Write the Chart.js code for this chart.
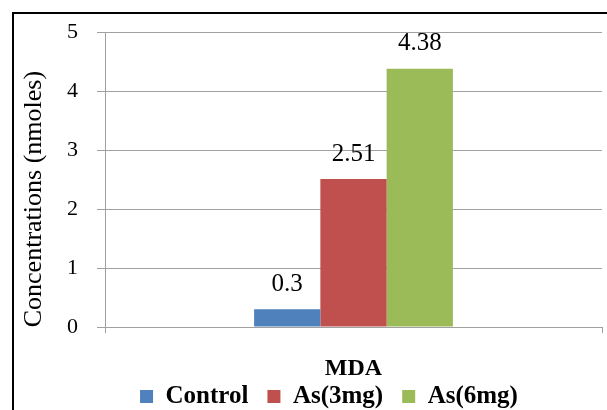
<!DOCTYPE html>
<html>
<head>
<meta charset="utf-8">
<script src="https://cdn.jsdelivr.net/npm/chart.js@4"></script>
<style>
  html, body { margin: 0; padding: 0; background: #fff; }
  #wrap { position: relative; width: 607px; height: 410px; overflow: hidden; background: #fff; }
  #frame { position: absolute; left: 12px; top: 12px; width: 700px; height: 500px; border: 2px solid #000; }
  #chart { position: absolute; left: 0; top: 0; }
</style>
</head>
<body>
<div id="wrap">
  <div id="frame"></div>
  <canvas id="chart" width="607" height="410"></canvas>
</div>
<script>
// datos del grafico
const categories = ["MDA"];
const seriesNames = ["Control", "As(3mg)", "As(6mg)"];
const controlValues = [0.3];
const as3Values = [2.51];
const as6Values = [4.38];
const yTicks = [0, 1, 2, 3, 4, 5];

const colors = ["#4f81bd", "#c0504d", "#9bbb59"];
const gridColor = "#a0a0a0";
const serif = "'Liberation Serif', 'Times New Roman', serif";

// etiquetas de valor encima de cada barra
const valueLabels = {
    id: "valueLabels",
    afterDatasetsDraw(chart) {
        const ctx = chart.ctx;
        ctx.save();
        ctx.font = "25px " + serif;
        ctx.fillStyle = "#000";
        ctx.textAlign = "center";
        ctx.textBaseline = "middle";
        chart.data.datasets.forEach((ds, i) => {
            chart.getDatasetMeta(i).data.forEach((bar, j) => {
                ctx.fillText(String(ds.data[j]), bar.x, bar.y - 25);
            });
        });
        ctx.restore();
    }
};

// mover la leyenda a su sitio (el padding inferior es negativo)
const legendShift = {
    id: "legendShift",
    afterLayout(chart) {
        const lg = chart.legend;
        lg.left += 28; lg.right += 28;
        lg.top -= 17; lg.bottom -= 17;
    }
};

new Chart(document.getElementById("chart"), {
    type: "bar",
    data: {
        labels: categories,
        datasets: [
            { label: seriesNames[0], data: controlValues, backgroundColor: colors[0] },
            { label: seriesNames[1], data: as3Values, backgroundColor: colors[1] },
            { label: seriesNames[2], data: as6Values, backgroundColor: colors[2] }
        ]
    },
    options: {
        responsive: false,
        animation: false,
        layout: { padding: { left: 0, right: 5, top: 30, bottom: -26 } },
        datasets: { bar: { categoryPercentage: 0.4, barPercentage: 1.0 } },
        scales: {
            x: {
                offset: true,
                grid: { display: true, drawOnChartArea: false, color: gridColor, tickLength: 6, offset: true },
                border: { color: gridColor, width: 1 },
                ticks: { color: "#000", padding: 21, font: { family: serif, size: 24, weight: "bold" } },
                afterFit(scale) { scale.height = 55; }
            },
            y: {
                min: 0,
                max: 5,
                afterBuildTicks(scale) { scale.ticks = yTicks.map(v => ({ value: v })); },
                grid: { color: gridColor, tickLength: 8 },
                border: { color: gridColor, width: 1 },
                ticks: { color: "#000", padding: 19, font: { family: serif, size: 22 } },
                title: {
                    display: true,
                    // espacios al final para bajar un poco el titulo
                    text: "Concentrations (nmoles)      ",
                    color: "#000",
                    padding: { top: 19, bottom: 0 },
                    font: { family: serif, size: 26 }
                },
                afterFit(scale) { scale.width = 105; }
            }
        },
        plugins: {
            legend: {
                position: "bottom",
                labels: {
                    color: "#000",
                    boxWidth: 13,
                    boxHeight: 13,
                    padding: 19,
                    font: { family: serif, size: 25, weight: "bold" }
                }
            },
            tooltip: { enabled: false }
        }
    },
    plugins: [valueLabels, legendShift]
});
</script>
</body>
</html>
